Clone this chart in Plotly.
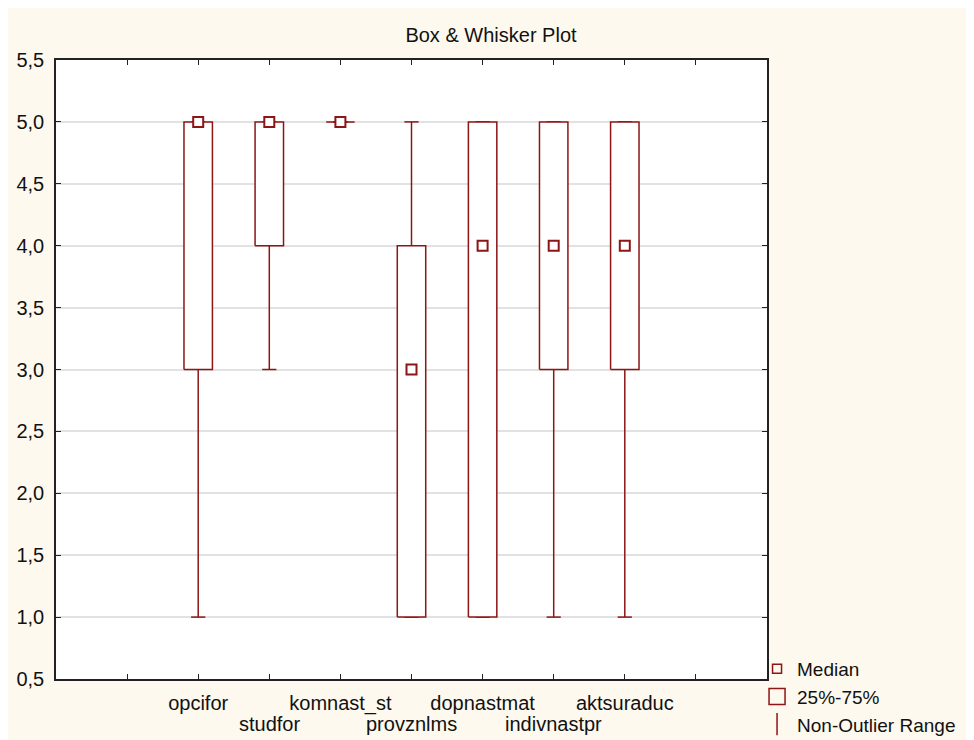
import plotly.graph_objects as go

# ---- data ----
categories = ["opcifor", "studfor", "komnast_st", "provznlms",
              "dopnastmat", "indivnastpr", "aktsuraduc"]
medians = [5, 5, 5, 3, 4, 4, 4]
q1 = [3, 4, 5, 1, 1, 3, 3]
q3 = [5, 5, 5, 4, 5, 5, 5]
lower = [1, 3, 5, 1, 1, 1, 1]
upper = [5, 5, 5, 5, 5, 5, 5]
y_ticks = [0.5, 1.0, 1.5, 2.0, 2.5, 3.0, 3.5, 4.0, 4.5, 5.0, 5.5]

RED = "#8C1515"
FONT = "Liberation Sans, Arial, sans-serif"
FS = 20

# category positions on a linear axis with one empty slot each side
pos = [i + 2 for i in range(len(categories))]
HB = 0.2   # half box width
HC = 0.1   # half cap width

wx, wy, bx, by = [], [], [], []
for p, lo, a, b, hi in zip(pos, lower, q1, q3, upper):
    wx += [p, p, None, p - HC, p + HC, None, p, p, None, p - HC, p + HC, None]
    wy += [b, hi, None, hi, hi, None, a, lo, None, lo, lo, None]
    bx += [p - HB, p + HB, p + HB, p - HB, p - HB, None]
    by += [a, a, b, b, a, None]

fig = go.Figure()
fig.add_trace(go.Scatter(x=wx, y=wy, mode="lines", line=dict(color=RED, width=1.5),
                         showlegend=False, hoverinfo="skip"))
fig.add_trace(go.Scatter(x=bx, y=by, mode="lines", fill="toself", fillcolor="white",
                         line=dict(color=RED, width=1.5), showlegend=False, hoverinfo="skip"))
fig.add_trace(go.Scatter(x=pos, y=medians, mode="markers",
                         marker=dict(symbol="square", size=10, color="white",
                                     line=dict(color=RED, width=2)),
                         showlegend=False))

# legend proxies
fig.add_trace(go.Scatter(x=[None], y=[None], mode="markers", name="Median",
                         marker=dict(symbol="square-open", size=9, color=RED,
                                     line=dict(color=RED, width=1.5))))
fig.add_trace(go.Scatter(x=[None], y=[None], mode="markers", name="25%-75%",
                         marker=dict(symbol="square-open", size=16, color=RED,
                                     line=dict(color=RED, width=1.5))))
fig.add_trace(go.Scatter(x=[None], y=[None], mode="markers", name="Non-Outlier Range",
                         marker=dict(symbol="line-ns-open", size=18, color=RED,
                                     line=dict(color=RED, width=1.5))))

tickvals = list(range(1, len(categories) + 3))
ticktext = [""] + [c if i % 2 == 0 else "" for i, c in enumerate(categories)] + [""]

for i, (p, c) in enumerate(zip(pos, categories)):
    if i % 2 == 1:
        fig.add_annotation(x=p, y=0, xref="x", yref="paper", yanchor="top",
                           yshift=-32, text=c, showarrow=False,
                           font=dict(family=FONT, size=FS, color="#111"))

fig.update_layout(
    width=966, height=732,
    margin=dict(l=48, r=207, t=52, b=61, autoexpand=False),
    paper_bgcolor="#FDF9EE", plot_bgcolor="white",
    separators=",.",
    font=dict(family=FONT, size=FS, color="#111"),
    title=dict(text="Box & Whisker Plot", x=0.5, xref="container", xanchor="center",
               y=1 - 27 / 732, yref="container", yanchor="middle",
               font=dict(family=FONT, size=FS, color="#111")),
    showlegend=True,
    legend=dict(x=0.986, y=0.047, xanchor="left", yanchor="top",
                bgcolor="rgba(0,0,0,0)", font=dict(family=FONT, size=19, color="#111"),
                tracegroupgap=0, itemwidth=30),
    xaxis=dict(range=[0, len(categories) + 3], tickmode="array", tickvals=tickvals,
               ticktext=ticktext, ticks="inside", ticklen=5, tickcolor="#222",
               showline=True, linecolor="#222", linewidth=1.5, mirror="ticks",
               showgrid=False, zeroline=False, tickangle=0, ticklabelstandoff=5,
               automargin=False),
    yaxis=dict(range=[0.5, 5.5], tickmode="array", tickvals=y_ticks,
               ticktext=[f"{v:.1f}".replace(".", ",") for v in y_ticks],
               ticks="inside", ticklen=5, tickcolor="#222",
               showline=True, linecolor="#222", linewidth=1.5, mirror="ticks",
               showgrid=True, gridcolor="#e2e2e2", gridwidth=1.5, zeroline=False,
               ticklabelstandoff=6, automargin=False),
)

fig.write_html("out.html")
